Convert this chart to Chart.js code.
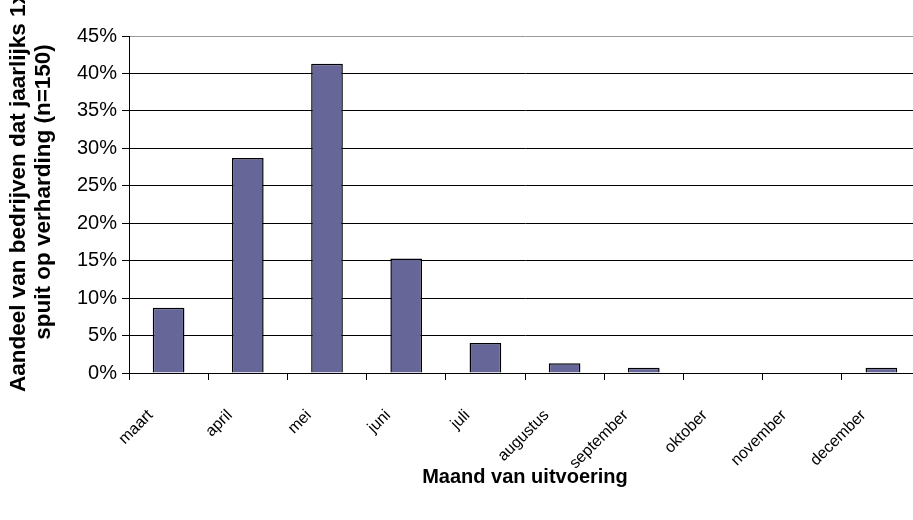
<!DOCTYPE html>
<html>
<head>
<meta charset="utf-8">
<script src="https://cdn.jsdelivr.net/npm/chart.js@4.4.0/dist/chart.umd.min.js"></script>
<style>
body { margin: 0; overflow: hidden; background: #fff; }
</style>
</head>
<body>
<canvas id="maandChart" width="940" height="520"></canvas>
<script>
// maanden van uitvoering
var maanden = ["maart", "april", "mei", "juni", "juli", "augustus", "september", "oktober", "november", "december"];
// aandeel bedrijven (%)
var aandeel = [8.7, 28.7, 41.3, 15.3, 4.0, 1.3, 0.7, 0, 0, 0.7];
// y-as stappen
var yTicks = [0, 5, 10, 15, 20, 25, 30, 35, 40, 45];
var yTitel = ["Aandeel van bedrijven dat jaarlijks 1x", "spuit op verharding (n=150)"];
var xTitel = "Maand van uitvoering";

var fontNaam = '"Liberation Sans", Arial, sans-serif';
Chart.defaults.font.family = fontNaam;
Chart.defaults.color = '#000';

// y-as titel, twee regels gedraaid
var yTitelPlugin = {
    id: 'yTitel',
    afterDraw: function (chart) {
        var ctx = chart.ctx;
        ctx.save();
        ctx.font = 'bold 22.5px ' + fontNaam;
        ctx.fillStyle = '#000';
        ctx.textAlign = 'center';
        ctx.textBaseline = 'middle';
        ctx.translate(0, 192);
        ctx.rotate(-Math.PI / 2);
        ctx.fillText(yTitel[0], 0, 19);
        ctx.fillText(yTitel[1], 0, 44);
        ctx.restore();
    }
};

var ctxMaand = document.getElementById('maandChart').getContext('2d');
var myChart = new Chart(ctxMaand, {
    type: 'bar',
    data: {
        labels: maanden,
        datasets: [{
            label: "Aandeel",
            data: aandeel,
            backgroundColor: '#666699',
            borderColor: '#000',
            borderWidth: 1.5,
            barPercentage: 0.4,
            categoryPercentage: 1.0
        }]
    },
    options: {
        responsive: false,
        animation: false,
        layout: { padding: { top: 36, right: 19, left: 0, bottom: 0 } },
        plugins: {
            legend: { display: false },
            tooltip: { enabled: false }
        },
        scales: {
            x: {
                offset: true,
                grid: { drawOnChartArea: false, offset: true, tickLength: 7, color: '#000' },
                border: { color: '#000', width: 1 },
                ticks: {
                    autoSkip: false,
                    minRotation: 45,
                    maxRotation: 45,
                    padding: 26,
                    labelOffset: -18,
                    font: { size: 16 }
                },
                title: {
                    display: true,
                    text: xTitel,
                    font: { size: 20, weight: 'bold' },
                    padding: { top: 0, bottom: 31 }
                },
                afterFit: function (scale) { scale.height = 147; }
            },
            y: {
                min: 0,
                max: 45,
                grid: {
                    color: function (c) { return c.tick && c.tick.value === 45 ? '#999' : '#000'; },
                    tickColor: '#000',
                    tickLength: 7,
                    lineWidth: 1
                },
                border: { color: '#000', width: 1 },
                ticks: {
                    padding: 5,
                    font: { size: 20 },
                    callback: function (v) { return v + '%'; }
                },
                afterBuildTicks: function (scale) {
                    scale.ticks = yTicks.map(function (v) { return { value: v }; });
                },
                afterFit: function (scale) { scale.width = 129; }
            }
        }
    },
    plugins: [yTitelPlugin]
});
</script>
</body>
</html>
